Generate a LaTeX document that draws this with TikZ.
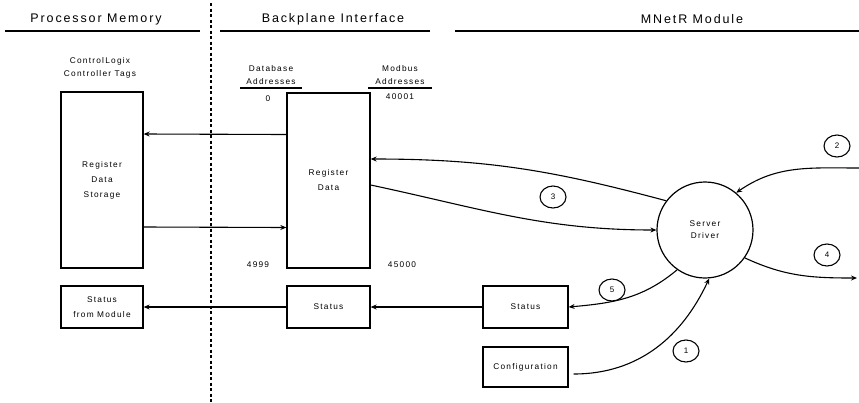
\documentclass[tikz,border=0pt]{standalone}
\usepackage{fontspec}
\setmainfont{Liberation Sans}
\newfontfamily\spacedfont[LetterSpace=15]{Liberation Sans}
\usetikzlibrary{
  arrows.meta,
  shapes.geometric,
  calc
}

\begin{document}
\begin{tikzpicture}[x=1pt, y=-1pt,
  box/.style={draw, line width=1.3pt, align=center, inner sep=1pt,
    font=\spacedfont\fontsize{8.3}{15}\selectfont},
  head/.style={font=\spacedfont\fontsize{12.5}{14}\selectfont},
  lbl/.style={align=center, inner sep=1pt, font=\spacedfont\fontsize{8.3}{12.5}\selectfont},
  num/.style={draw, ellipse, line width=1.1pt, minimum width=26pt, minimum height=22pt,
    inner sep=0pt, font=\spacedfont\fontsize{8}{9}\selectfont},
  flow/.style={line width=1.1pt, -{Stealth[length=6pt, width=5pt, inset=2pt]}}
]
  \useasboundingbox (0,0) rectangle (859,402);

  % column headings
  \node[head] (procHead) at (96,19) {Processor Memory};
  \node[head] (bpHead) at (333,19) {Backplane Interface};
  \node[head] (modHead) at (692,19) {MNetR Module};
  \draw[line width=1.6pt] (5,31) -- (200,31);
  \draw[line width=1.6pt] (220,31) -- (430,31);
  \draw[line width=1.6pt] (455,31) -- (859,31);
  \draw[line width=1.1pt, dash pattern=on 3pt off 2.5pt] (211,3) -- (211,402);

  % processor side
  \node[lbl] (tags) at (100,68) {ControlLogix\\Controller Tags};
  \node[box, minimum width=82pt, minimum height=176pt] (storage) at (102,180) {Register\\Data\\Storage};
  \node[box, minimum width=82pt, minimum height=42pt] (stmod) at (102,307) {Status\\from Module};

  % backplane interface
  \node[box, minimum width=83pt, minimum height=175pt] (regdata) at (328.5,180.5) {Register\\Data};
  \node[box, minimum width=83pt, minimum height=42pt] (stbp) at (328.5,307) {Status};
  \node[lbl] (dbaddr) at (271,75) {Database\\Addresses};
  \node[lbl] (mbaddr) at (400,75) {Modbus\\Addresses};
  \draw[line width=1.2pt] (240,88) -- (302,88);
  \draw[line width=1.2pt] (368,88) -- (432,88);
  \node[lbl] (dbfirst) at (268,99) {0};
  \node[lbl] (mbfirst) at (400,97) {40001};
  \node[lbl] (dblast) at (258,265) {4999};
  \node[lbl] (mblast) at (402,265) {45000};

  % module side
  \node[draw, circle, line width=1.2pt, minimum size=96pt, align=center, inner sep=0pt,
    font=\spacedfont\fontsize{8.3}{12}\selectfont] (srv) at (705,230) {Server\\Driver};
  \node[box, minimum width=85pt, minimum height=42pt] (stsrv) at (525.5,307) {Status};
  \node[box, minimum width=85pt, minimum height=40pt] (config) at (525.5,367) {Configuration};
  \coordinate (inA) at (859,168);
  \coordinate (outB) at (857,278);

  \node[num] (n1) at (686,351) {1};
  \node[num] (n2) at (837,146) {2};
  \node[num] (n3) at (553,197) {3};
  \node[num] (n4) at (827,255) {4};
  \node[num] (n5) at (612,290) {5};

  % data paths
  \draw[flow] ([yshift=46pt]regdata.west) -- ([yshift=46pt]storage.east);
  \draw[flow] ([yshift=-47pt]storage.east) -- ([yshift=-47pt]regdata.west);
  \draw[flow] (stsrv) -- (stbp);
  \draw[flow] (stbp) -- (stmod);
  \draw[flow] (srv.143) to[out=165, in=0] ([yshift=21.5pt]regdata.east);
  \draw[flow] ([yshift=-4.5pt]regdata.east) to[out=-12, in=180] (srv.west);
  \draw[flow] (inA) to[out=180, in=35] (srv.50);
  \draw[flow] (srv.-35) to[out=-25, in=180] (outB);
  \draw[flow] (srv.-125) to[out=-140, in=5] (stsrv.east);
  \draw[flow] ([yshift=-7pt,xshift=5pt]config.east) to[out=0, in=-115] (srv.-85);
\end{tikzpicture}
\end{document}
